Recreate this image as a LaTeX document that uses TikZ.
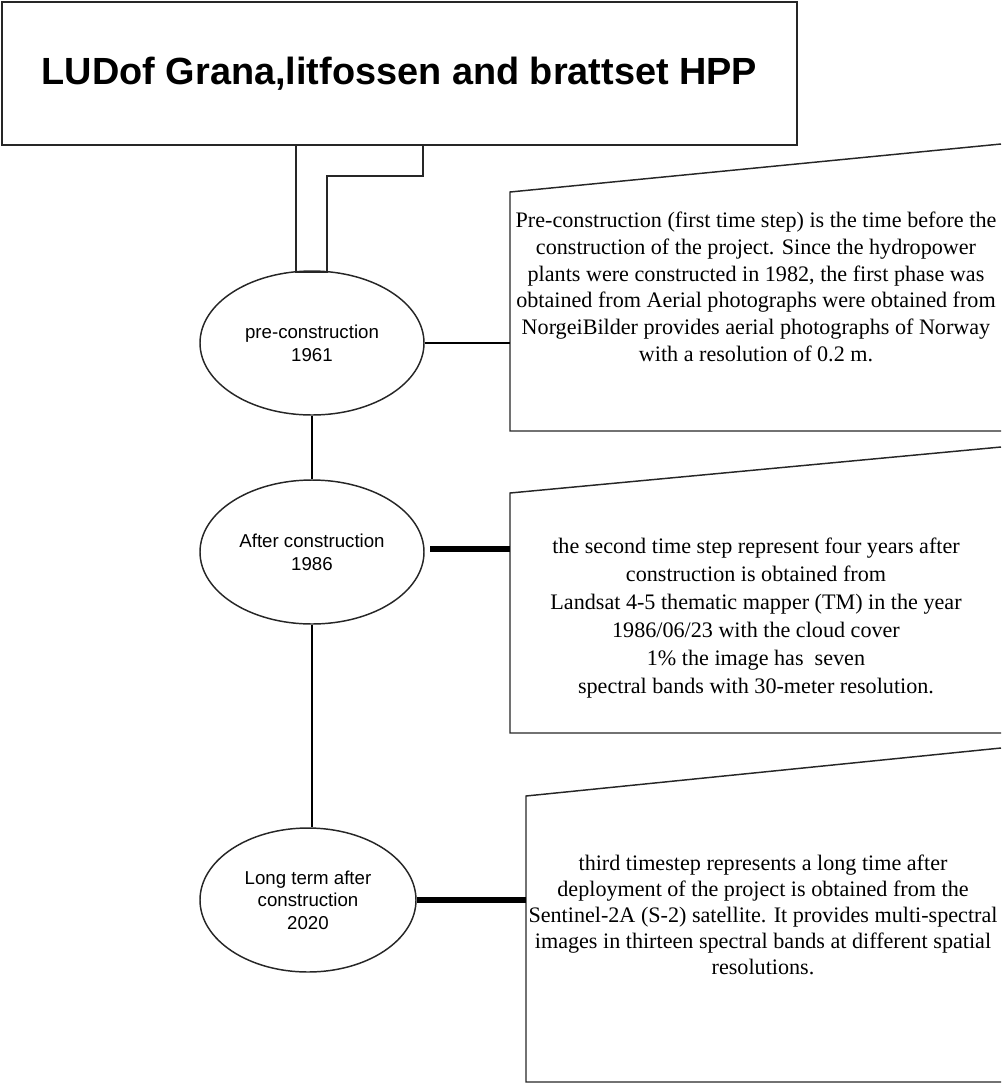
\documentclass[tikz,border=0pt]{standalone}
\usepackage{fontspec}
\setmainfont{Liberation Serif}
\setsansfont{Liberation Sans}
\usetikzlibrary{shapes.geometric}
\begin{document}
\begin{tikzpicture}[x=0.75pt,y=-0.75pt,
  outline/.style={draw=black!85,line width=1.1pt},
  phase/.style={ellipse,outline,inner sep=0pt,minimum width=168pt,minimum height=108pt,align=center,font=\sffamily\fontsize{14}{17}\selectfont},
  desc/.style={align=center,font=\rmfamily\fontsize{16.6}{20}\selectfont},
  thinlink/.style={line width=1.5pt},
  thicklink/.style={line width=3.8pt}]
\useasboundingbox (0,0) rectangle (1001,1083);
% title
\node[outline,minimum width=596pt,minimum height=107pt,inner sep=0pt,font=\sffamily\bfseries\fontsize{28.4}{34}\selectfont] (title) at (399.5,73.5) {LUDof Grana,litfossen and brattset HPP};
% phases
\node[phase] (p1) at (312,343) {pre-construction\\1961};
\node[phase] (p2) at (312,552) {After construction\\1986};
\node[phase,minimum width=162pt] (p3) at (308,900) {Long term after\\construction\\2020};
% description boxes
\draw[outline] (1001,144) -- (510,192) -- (510,431) -- (1001,431);
\draw[outline] (1001,447) -- (510,493) -- (510,733) -- (1001,733);
\draw[outline] (1001,748) -- (526,796) -- (526,1082) -- (1001,1082);
\node[desc] (d1) at (756,287) {Pre-construction (first time step) is the time before the\\construction of the project. Since the hydropower\\plants were constructed in 1982, the first phase was\\obtained from Aerial photographs were obtained from\\NorgeiBilder provides aerial photographs of Norway\\with a resolution of 0.2 m.};
\node[desc,font=\rmfamily\fontsize{16.6}{21}\selectfont] (d2) at (756,618) {the second time step represent four years after\\construction is obtained from\\Landsat 4-5 thematic mapper (TM) in the year\\1986/06/23 with the cloud cover\\1\% the image has \ seven\\spectral bands with 30-meter resolution.};
\node[desc,font=\rmfamily\fontsize{16.6}{19.5}\selectfont] (d3) at (763,915) {third timestep represents a long time after\\deployment of the project is obtained from the\\Sentinel-2A (S-2) satellite. It provides multi-spectral\\images in thirteen spectral bands at different spatial\\resolutions.};
\coordinate (d1in) at (510,343);
\coordinate (d2in) at (510,549);
\coordinate (d3in) at (526,900);
\coordinate (p2out) at (430,549);
% title connector (wide outlined link)
\coordinate (ta) at (296,145);
\coordinate (tb) at (296,272);
\coordinate (tc) at (327,272);
\coordinate (td) at (327,176);
\coordinate (te) at (423,176);
\coordinate (tf) at (423,145);
\draw[outline] (ta) -- (tb) -- (tc) -- (td) -- (te) -- (tf);
% links
\draw[thinlink] (p1.east) -- (d1in);
\draw[thicklink] (p2out) -- (d2in);
\draw[thicklink] (p3.east) -- (d3in);
\draw[thinlink] (p1.south) -- (p2.north);
\draw[thinlink] (p2.south) -- (p3.north -| p2.south);
\end{tikzpicture}
\end{document}
